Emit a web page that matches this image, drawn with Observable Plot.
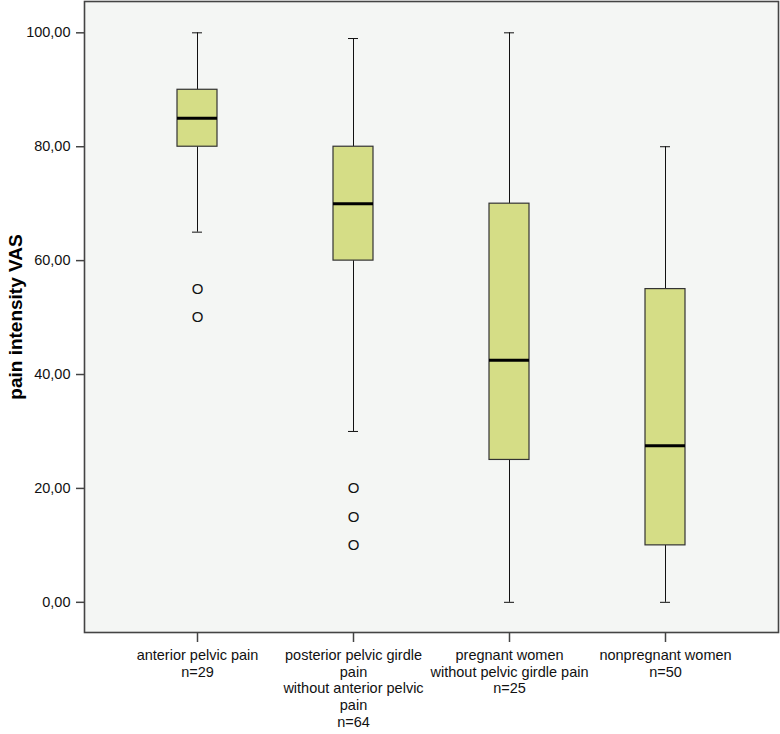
<!DOCTYPE html>
<html>
<head>
<meta charset="utf-8">
<script src="https://cdn.jsdelivr.net/npm/d3@7"></script>
<script src="https://cdn.jsdelivr.net/npm/@observablehq/plot@0.6"></script>
<style>
  body { margin: 0; background: #fff; }
  svg { font-family: "Liberation Sans", Arial, sans-serif; }
</style>
</head>
<body>
<div id="chart"></div>
<script>
const categories = [
  "anterior pelvic pain\nn=29",
  "posterior pelvic girdle\npain\nwithout anterior pelvic\npain\nn=64",
  "pregnant women\nwithout pelvic girdle pain\nn=25",
  "nonpregnant women\nn=50"
];
const whiskerLow  = [65, 30, 0, 0];
const q1          = [80, 60, 25, 10];
const median      = [85, 70, 42.5, 27.5];
const q3          = [90, 80, 70, 55];
const whiskerHigh = [100, 99, 100, 80];
const outlierGroup = [0, 0, 1, 1, 1];
const outlierValue = [55, 50, 20, 15, 10];
const yTicks = [0, 20, 40, 60, 80, 100];

const boxes = categories.map((c, i) => ({
  cat: c, lo: whiskerLow[i], q1: q1[i], med: median[i], q3: q3[i], hi: whiskerHigh[i]
}));
const outliers = outlierValue.map((v, i) => ({cat: categories[outlierGroup[i]], v}));

const fmt = v => v.toFixed(2).replace(".", ",");

const chart = Plot.plot({
  width: 780,
  height: 734,
  marginLeft: 84,
  marginRight: 2,
  marginTop: 1,
  marginBottom: 102,
  style: {fontFamily: "Liberation Sans, Arial, sans-serif", background: "#fff"},
  x: {domain: categories, type: "band", paddingInner: 0.746, paddingOuter: 0.595, axis: null},
  y: {domain: [-5.3, 105.5], axis: null},
  marks: [
    Plot.frame({fill: "#f4f6f4", stroke: "none"}),
    Plot.ruleX(boxes, {x: "cat", y1: "lo", y2: "q1", stroke: "#111", strokeWidth: 1}),
    Plot.ruleX(boxes, {x: "cat", y1: "q3", y2: "hi", stroke: "#111", strokeWidth: 1}),
    Plot.tickY(boxes, {x: "cat", y: "lo", stroke: "#111", strokeWidth: 1, inset: 15}),
    Plot.tickY(boxes, {x: "cat", y: "hi", stroke: "#111", strokeWidth: 1, inset: 15}),
    Plot.barY(boxes, {x: "cat", y1: "q1", y2: "q3", fill: "#d5dd86", stroke: "#333", strokeWidth: 1.2}),
    Plot.tickY(boxes, {x: "cat", y: "med", stroke: "#000", strokeWidth: 3}),
    Plot.text(outliers, {x: "cat", y: "v", text: () => "O", fontSize: 15, fill: "#111"}),
    Plot.frame({stroke: "#444", strokeWidth: 1.6}),
    Plot.axisY({ticks: yTicks, tickFormat: fmt, tickSize: 8, tickPadding: 6, fontSize: 14.5, fill: "#111", stroke: "#444", strokeWidth: 1.5, label: null}),
    Plot.axisX({tickSize: 10, tickPadding: 5, fontSize: 14.5, lineHeight: 1.17, fill: "#111", stroke: "#444", strokeWidth: 1.5, label: null}),
    Plot.text(["pain intensity VAS"], {frameAnchor: "left", textAnchor: "middle", dx: -69, rotate: -90, fontSize: 19, fontWeight: "bold", fill: "#000", text: d => d})
  ]
});
document.getElementById("chart").appendChild(chart);
</script>
</body>
</html>
